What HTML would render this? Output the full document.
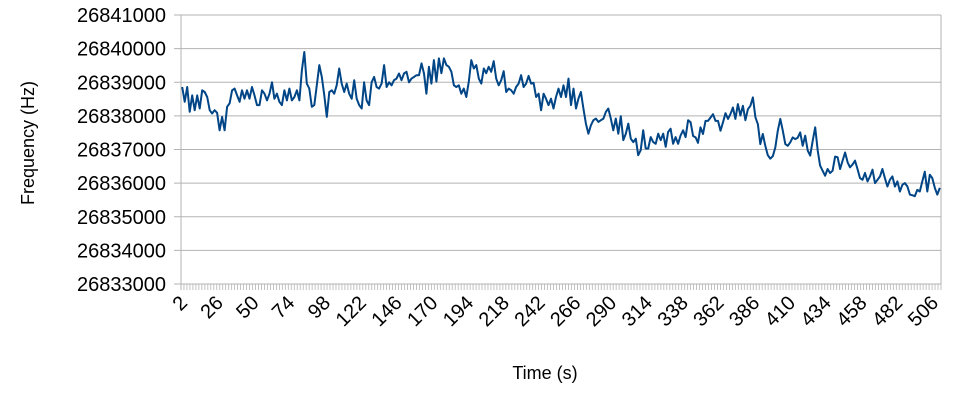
<!DOCTYPE html>
<html><head><meta charset="utf-8"><style>
body{margin:0;background:#fff;}
svg{display:block;font-family:"Liberation Sans",sans-serif;}
</style></head><body>
<svg id="chart" width="960" height="400" viewBox="0 0 960 400">
<g id="grid"></g>
<g id="yticks"></g>
<g id="xticks"></g>
<path id="line" fill="none" stroke="#004586" stroke-width="2" stroke-linejoin="round"></path>
<text x="34" y="143" font-size="18" text-anchor="middle" transform="rotate(-90 34 143)">Frequency (Hz)</text>
<text x="545" y="379" font-size="18" text-anchor="middle">Time (s)</text>
</svg>
<script>
const yTicks=[26833000,26834000,26835000,26836000,26837000,26838000,26839000,26840000,26841000];
const catStart=2, catStep=2, catCount=255, labelEvery=12;
const base=26800000;
const values=[38860,38420,38860,38120,38610,38170,38610,38220,38760,38710,38560,38170,38070,38170,38090,37570,37970,37570,38270,38370,38760,38810,38610,38420,38760,38510,38760,38510,38860,38610,38320,38320,38760,38660,38460,38660,39000,38510,38660,38420,38320,38760,38460,38810,38460,38560,38760,38460,39360,39900,38960,38810,38270,38320,38910,39510,39160,38610,37970,38710,38760,38660,38910,39410,38960,38710,38960,38660,38510,39060,38510,38320,38220,39000,38460,38320,39000,39160,38860,38810,38960,39510,38860,39000,38910,39060,39110,39260,39060,39260,39310,39000,39110,39160,39210,39210,39560,39260,38660,39460,38960,
39660,39020,39710,39270,39710,39510,39460,39310,38910,38860,38910,38660,38810,38560,39020,39660,39410,39510,39110,38960,39410,39270,39460,39310,39630,39110,38910,39060,39330,38710,38810,38760,38660,38860,38960,39210,38860,38960,39190,38960,38980,38560,38660,38170,38660,38510,38320,38510,38220,38560,38810,38560,38910,38560,39110,38320,38810,38220,38510,38710,38220,37770,37470,37720,37870,37920,37820,37870,37920,38120,38220,37920,37570,37920,37470,37990,37280,37470,37770,37320,37220,37320,36830,36980,37570,37030,37030,37370,37220,37170,37470,37280,37470,37080,37520,37620,37170,37370,37170,37420,37570,37370,37870,
37810,37400,37360,37200,37660,37460,37850,37850,37950,38050,37850,37850,37560,37810,38080,37910,38050,38250,37910,38350,38010,38300,37870,38200,38300,38550,37960,37750,37160,37460,37110,36830,36730,36800,37060,37560,37910,37560,37160,37110,37210,37360,37310,37350,37510,37110,37410,36970,36820,37260,37660,36970,36520,36370,36220,36420,36300,36370,36790,36770,36420,36670,36910,36620,36470,36550,36670,36420,36150,36100,36300,36050,36200,36400,36000,36100,36200,36420,36150,35900,36100,36200,35900,36050,35750,35950,36000,35900,35660,35640,35610,35800,35750,36050,36340,35750,36250,36150,35860,35660,35860];

const L=181,R=941,T=15,B=284,NS="http://www.w3.org/2000/svg";
const yMin=yTicks[0],yMax=yTicks[yTicks.length-1];
function y(v){return B-(v-yMin)/(yMax-yMin)*(B-T);}
function xCat(i){return L+i*(R-L)/catCount;}
function xData(i){return L+(i+0.5)*(R-L)/values.length;}
function mk(tag,attrs,parent){const e=document.createElementNS(NS,tag);for(const k in attrs)e.setAttribute(k,attrs[k]);parent.appendChild(e);return e;}
const grid=document.getElementById('grid'),yt=document.getElementById('yticks'),xt=document.getElementById('xticks');
yTicks.forEach(v=>{
  const g=mk('line',{x1:L-7,x2:R,y1:y(v),y2:y(v),stroke:'#b3b3b3','stroke-width':1},grid);
  
  
  const t=mk('text',{x:166,y:y(v)+7,'font-size':20,'text-anchor':'end',fill:'#000'},yt);
  
  
  t.textContent=v;
});
const ax=mk('line',{x1:L,x2:L,y1:T,y2:B+6,stroke:'#b3b3b3','stroke-width':1},grid);


const rx=mk('line',{x1:R,x2:R,y1:T,y2:B,stroke:'#b3b3b3','stroke-width':1},grid);


for(let i=0;i<=catCount;i++){
  const tk=mk('line',{x1:xCat(i),x2:xCat(i),y1:B,y2:B+6,stroke:'#b3b3b3','stroke-width':0.8},xt);
  
  
}
for(let i=0;i<catCount;i+=labelEvery){
  const cx=xCat(i)+(R-L)/catCount/2, cy=B+14;
  const t=mk('text',{x:cx+6,y:cy+6,'font-size':20,'text-anchor':'end',transform:`rotate(-45 ${cx+6} ${cy+6})`},xt);
  
  
  t.textContent=catStart+i*catStep;
}
document.getElementById('line').setAttribute('d',values.map((v,i)=>(i?'L':'M')+xData(i).toFixed(1)+' '+y(base+v).toFixed(1)).join(' '));
</script>
</body></html>
